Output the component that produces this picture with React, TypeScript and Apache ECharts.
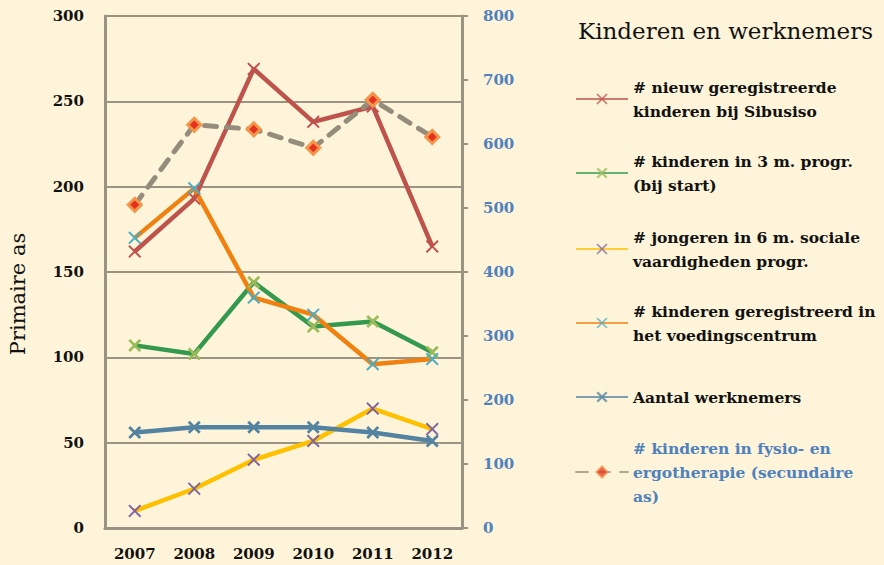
import React, { useEffect, useRef } from "react";
import * as echarts from "echarts";

const years = ["2007", "2008", "2009", "2010", "2011", "2012"];
const nieuwGeregistreerd = [162, 193, 269, 238, 247, 165];
const driemaandProgr = [107, 102, 144, 118, 121, 103];
const zesmaandProgr = [10, 23, 40, 51, 70, 58];
const voedingscentrum = [170, 199, 135, 125, 96, 99];
const werknemers = [56, 59, 59, 59, 56, 51];
const fysio = [505, 630, 623, 594, 669, 611];

const seriesNames = [
  "# nieuw geregistreerde kinderen bij Sibusiso",
  "# kinderen in 3 m. progr. (bij start)",
  "# jongeren in 6 m. sociale vaardigheden progr.",
  "# kinderen geregistreerd in het voedingscentrum",
  "Aantal werknemers",
  "# kinderen in fysio- en ergotherapie (secundaire as)",
];
const legendLines = [
  ["# nieuw geregistreerde", "kinderen bij Sibusiso"],
  ["# kinderen in 3 m. progr.", "(bij start)"],
  ["# jongeren in 6 m. sociale", "vaardigheden progr."],
  ["# kinderen geregistreerd in", "het voedingscentrum"],
  ["Aantal werknemers"],
  ["# kinderen in fysio- en", "ergotherapie (secundaire", "as)"],
];
const leftTicks = { min: 0, max: 300, interval: 50 };
const rightTicks = { min: 0, max: 800, interval: 100 };

const FONT = "DejaVu Serif";
const GRID = "#9b9381";
const BG = "#fef4d9";

function xPath(d: number) {
  return `path://M0,${d}L${d},0L5,${5 - d}L${10 - d},0L10,${d}L${5 + d},5L10,${10 - d}L${10 - d},10L5,${5 + d}L${d},10L0,${10 - d}L${5 - d},5Z`;
}
const X_THIN = xPath(1.05);
const X_THICK = xPath(1.5);

export default function App() {
  const ref = useRef<HTMLDivElement>(null);
  useEffect(() => {
    if (!ref.current) return;
    const chart = echarts.init(ref.current, undefined, { renderer: "svg" });
    const lineCfg = (
      name: string,
      data: number[],
      color: string,
      markColor: string,
      sym: string,
      width = 4.5
    ) => ({
      name,
      type: "line",
      data,
      yAxisIndex: 0,
      symbol: sym,
      symbolSize: 13,
      showAllSymbol: true,
      lineStyle: { color, width },
      itemStyle: { color: markColor, borderWidth: 0 },
      emphasis: { disabled: true },
    });
    const centers = [99, 173, 249, 323, 397, 472];
    const LH = 24;
    const legends = seriesNames.map((nm, i) => {
      const n = legendLines[i].length;
      return {
        data: [nm],
        left: 575,
        top: centers[i] - (n - 1) * LH - LH / 2,
        orient: "vertical",
        padding: 0,
        itemWidth: 52,
        itemHeight: 14,
        itemGap: 0,
        selectedMode: false,
        formatter: () => legendLines[i].join("\n"),
        lineStyle: { opacity: 0.75 },
        itemStyle: { opacity: 0.75 },
        textStyle: {
          fontFamily: FONT,
          fontSize: 15.5,
          fontWeight: "bold",
          color: i === 5 ? "#4f81bd" : "#111111",
          lineHeight: LH,
          padding: [(n - 1) * LH, 0, 0, 0],
        },
      };
    });
    const axisFont = { fontFamily: FONT, fontSize: 15, fontWeight: "bold" };
    chart.setOption({
      animation: false,
      backgroundColor: BG,
      textStyle: { fontFamily: FONT },
      title: {
        text: "Kinderen en werknemers",
        left: 578,
        top: 19,
        padding: 0,
        textStyle: { fontFamily: FONT, fontSize: 23, fontWeight: "normal", color: "#111111" },
      },
      legend: legends,
      grid: { left: 105, right: 422, top: 16, bottom: 37, containLabel: false },
      xAxis: {
        type: "category",
        data: years,
        boundaryGap: true,
        axisLine: { show: true, lineStyle: { color: GRID, width: 3 } },
        axisTick: { show: false },
        axisLabel: { ...axisFont, color: "#111111", margin: 18 },
        splitLine: { show: false },
      },
      yAxis: [
        {
          type: "value",
          ...leftTicks,
          position: "left",
          axisLine: { show: true, lineStyle: { color: GRID, width: 3 } },
          axisTick: { show: false },
          axisLabel: { ...axisFont, color: "#111111", margin: 21 },
          splitLine: { show: true, lineStyle: { color: GRID, width: 2 } },
        },
        {
          type: "value",
          ...rightTicks,
          position: "right",
          axisLine: { show: true, lineStyle: { color: GRID, width: 3 } },
          axisTick: { show: true, inside: false, length: 6, lineStyle: { color: GRID, width: 2 } },
          axisLabel: { ...axisFont, color: "#4f81bd", margin: 21 },
          splitLine: { show: false },
        },
      ],
      graphic: [
        {
          type: "text",
          x: 18,
          y: 294,
          rotation: Math.PI / 2,
          style: {
            text: "Primaire as",
            fontFamily: FONT,
            fontSize: 21,
            fill: "#111111",
            align: "center",
            verticalAlign: "middle",
          },
        },
      ],
      series: [
        lineCfg(seriesNames[0], nieuwGeregistreerd, "#bd534b", "#c0504d", X_THIN),
        lineCfg(seriesNames[1], driemaandProgr, "#33994f", "#9bbb59", X_THICK),
        lineCfg(seriesNames[2], zesmaandProgr, "#ffc000", "#8064a2", X_THIN),
        lineCfg(seriesNames[3], voedingscentrum, "#f08010", "#4bacc6", X_THIN),
        lineCfg(seriesNames[4], werknemers, "#5383a1", "#5383a1", X_THICK),
        {
          name: seriesNames[5],
          type: "line",
          data: fysio,
          yAxisIndex: 1,
          symbol: "diamond",
          symbolSize: 13,
          lineStyle: { color: "#958c7c", width: 5, type: [12, 10], cap: "round" },
          itemStyle: { color: "#e6311f", borderColor: "#f3954a", borderWidth: 3 },
          emphasis: { disabled: true },
        },
      ],
    });
    return () => chart.dispose();
  }, []);
  return <div ref={ref} style={{ width: 884, height: 565 }} />;
}

// page margin reset
if (typeof document !== "undefined") {
  document.body.style.margin = "0";
}
